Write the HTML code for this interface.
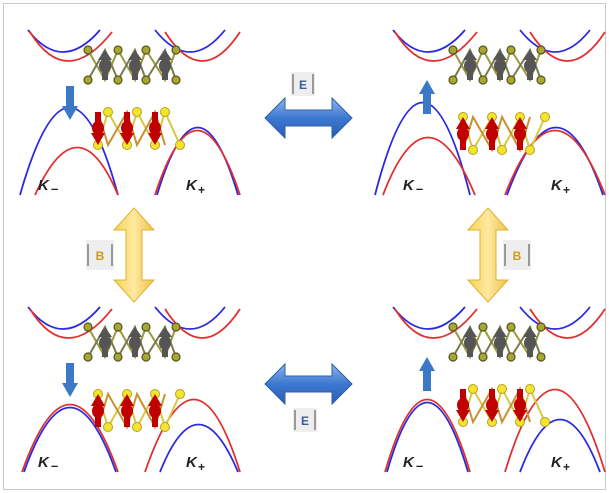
<!DOCTYPE html>
<html><head><style>
html,body{margin:0;padding:0;background:#fff;width:609px;height:493px;overflow:hidden}
text.k{font-family:"Liberation Sans",sans-serif;font-style:italic;font-weight:bold}
text.t{font-family:"Liberation Sans",sans-serif;font-style:normal;font-weight:bold}
</style></head><body>
<svg width="609" height="493" viewBox="0 0 609 493" xmlns="http://www.w3.org/2000/svg">
<defs>
<linearGradient id="bl" x1="0" y1="0" x2="0" y2="1"><stop offset="0" stop-color="#8fb4ea"/><stop offset="0.5" stop-color="#3d78d0"/><stop offset="1" stop-color="#2a5eb0"/></linearGradient>
<linearGradient id="yl" x1="0" y1="0" x2="1" y2="0"><stop offset="0" stop-color="#f7d35a"/><stop offset="0.5" stop-color="#fde9a0"/><stop offset="1" stop-color="#eec24a"/></linearGradient>
<g id="gm">
<polyline points="88,50 105,80 118,50 135,80 146,50 165,80 176,50" fill="none" stroke="#9a9a40" stroke-width="2"/>
<polyline points="88,80 105,50 118,80 135,50 146,80 165,50 176,80" fill="none" stroke="#7a7a50" stroke-width="2"/>
<g fill="#a8a830" stroke="#555520" stroke-width="1.2">
<circle cx="88" cy="50" r="4"/><circle cx="118" cy="50" r="4"/><circle cx="146" cy="50" r="4"/><circle cx="176" cy="50" r="4"/>
<circle cx="88" cy="80" r="4"/><circle cx="118" cy="80" r="4"/><circle cx="146" cy="80" r="4"/><circle cx="176" cy="80" r="4"/></g>
<g fill="#555"><rect x="102" y="56" width="6" height="24"/><polygon points="98,60 105,50 112,60"/><ellipse cx="105" cy="66" rx="6" ry="7"/>
<rect x="132" y="56" width="6" height="24"/><polygon points="128,60 135,50 142,60"/><ellipse cx="135" cy="66" rx="6" ry="7"/>
<rect x="162" y="56" width="6" height="24"/><polygon points="158,60 165,50 172,60"/><ellipse cx="165" cy="66" rx="6" ry="7"/></g>
</g>
<g id="rm">
<polyline points="98,145 108,112 127,145 137,112 155,145 165,112 180,145" fill="none" stroke="#d8c840" stroke-width="2"/>
<polyline points="98,112 108,145 127,112 137,145 155,112 165,145" fill="none" stroke="#c89030" stroke-width="2"/>
<g fill="#f2e530" stroke="#b8a020" stroke-width="1"><circle cx="108" cy="112" r="4.5"/><circle cx="137" cy="112" r="4.5"/><circle cx="165" cy="112" r="4.5"/>
<circle cx="98" cy="145" r="4.5"/><circle cx="127" cy="145" r="4.5"/><circle cx="155" cy="145" r="4.5"/><circle cx="180" cy="145" r="4.5"/></g>
<g fill="#c00000"><rect x="95" y="112" width="6" height="24"/><polygon points="91,133 98,145 105,133"/><ellipse cx="98" cy="128" rx="6" ry="7"/>
<rect x="124" y="112" width="6" height="24"/><polygon points="120,133 127,145 134,133"/><ellipse cx="127" cy="128" rx="6" ry="7"/>
<rect x="152" y="112" width="6" height="24"/><polygon points="148,133 155,145 162,133"/><ellipse cx="155" cy="128" rx="6" ry="7"/></g>
</g>
<g id="cb" fill="none" stroke-width="1.8">
<path d="M28,30 Q62,74 100,30" stroke="#2a2ae0"/><path d="M30,32 Q66,90 112,32" stroke="#e03030"/>
<path d="M155,30 Q190,74 225,30" stroke="#2a2ae0"/><path d="M165,32 Q202,90 240,32" stroke="#e03030"/>
</g>
<g id="lbl"><text class="k" x="38" y="190" font-size="15" fill="#222">K</text><text class="t" x="51" y="193" font-size="13" fill="#222">–</text>
<text class="k" x="186" y="190" font-size="15" fill="#222">K</text><text class="t" x="198" y="194" font-size="12" fill="#222">+</text></g>
</defs>
<rect x="3.5" y="3.5" width="602" height="486" fill="#fff" stroke="#c8c8c8"/>

<g>
<use href="#cb"/>
<g fill="none" stroke-width="1.8"><path d="M20,195 Q70,20 118,195" stroke="#2a2ae0"/><path d="M35,195 Q78,100 118,195" stroke="#e03030"/>
<path d="M157,195 Q198,60 238,195" stroke="#2a2ae0"/><path d="M155,195 Q197,66 240,195" stroke="#e03030"/></g>
<use href="#gm"/><use href="#rm"/>
<rect x="66" y="86" width="8" height="22" fill="#3c78c8"/><polygon points="62,106 70,120 78,106" fill="#3c78c8"/>
<use href="#lbl"/>
</g>
<g transform="translate(365,0)">
<use href="#cb"/>
<g fill="none" stroke-width="1.8"><path d="M10,195 Q58,10 105,195" stroke="#2a2ae0"/><path d="M18,195 Q62,80 110,195" stroke="#e03030"/>
<path d="M142,195 Q192,60 238,195" stroke="#2a2ae0"/><path d="M140,195 Q190,66 240,195" stroke="#e03030"/></g>
<use href="#gm"/><g transform="translate(0,262) scale(1,-1)"><use href="#rm"/></g>
<rect x="58" y="92" width="8" height="22" fill="#3c78c8"/><polygon points="54,94 62,80 70,94" fill="#3c78c8"/>
<use href="#lbl"/>
</g>
<g transform="translate(0,277)">
<use href="#cb"/>
<g fill="none" stroke-width="1.8"><path d="M22,195 Q70,60 118,195" stroke="#e03030"/><path d="M24,195 Q70,66 116,195" stroke="#2a2ae0"/>
<path d="M145,195 Q195,50 240,195" stroke="#e03030"/><path d="M160,195 Q198,100 238,195" stroke="#2a2ae0"/></g>
<use href="#gm"/><g transform="translate(0,262) scale(1,-1)"><use href="#rm"/></g>
<rect x="66" y="86" width="8" height="22" fill="#3c78c8"/><polygon points="62,106 70,120 78,106" fill="#3c78c8"/>
<use href="#lbl"/>
</g>
<g transform="translate(365,277)">
<use href="#cb"/>
<g fill="none" stroke-width="1.8"><path d="M20,195 Q62,50 105,195" stroke="#e03030"/><path d="M22,195 Q62,56 103,195" stroke="#2a2ae0"/>
<path d="M140,195 Q190,30 240,195" stroke="#e03030"/><path d="M155,195 Q195,90 235,195" stroke="#2a2ae0"/></g>
<use href="#gm"/><use href="#rm"/>
<rect x="58" y="92" width="8" height="22" fill="#3c78c8"/><polygon points="54,94 62,80 70,94" fill="#3c78c8"/>
<use href="#lbl"/>
</g>

<polygon points="265,118 285,98 285,110 332,110 332,98 352,118 332,138 332,126 285,126 285,138" fill="url(#bl)" stroke="#2d5fae" stroke-width="1"/>
<rect x="291" y="72" width="24" height="24" fill="#eeeeee"/><line x1="293" y1="74" x2="293" y2="94" stroke="#999" stroke-width="2"/><line x1="313" y1="74" x2="313" y2="94" stroke="#999" stroke-width="2"/>
<text class="t" x="303" y="89" font-size="12" fill="#3c5ca0" text-anchor="middle">E</text>
<polygon points="265,384 285,364 285,376 332,376 332,364 352,384 332,404 332,392 285,392 285,404" fill="url(#bl)" stroke="#2d5fae" stroke-width="1"/>
<rect x="293" y="408" width="24" height="24" fill="#eeeeee"/><line x1="295" y1="410" x2="295" y2="430" stroke="#999" stroke-width="2"/><line x1="315" y1="410" x2="315" y2="430" stroke="#999" stroke-width="2"/>
<text class="t" x="305" y="425" font-size="12" fill="#3c5ca0" text-anchor="middle">E</text>
<polygon points="134,208 154,230 142,230 142,280 154,280 134,302 114,280 126,280 126,230 114,230" fill="url(#yl)" stroke="#e0b030" stroke-width="1"/>
<rect x="86" y="240" width="28" height="30" fill="#eeeeee"/><line x1="88" y1="244" x2="88" y2="266" stroke="#999" stroke-width="2"/><line x1="112" y1="244" x2="112" y2="266" stroke="#999" stroke-width="2"/>
<text class="t" x="100" y="260" font-size="12" fill="#d09a10" text-anchor="middle">B</text>
<polygon points="488,208 508,230 496,230 496,280 508,280 488,302 468,280 480,280 480,230 468,230" fill="url(#yl)" stroke="#e0b030" stroke-width="1"/>
<rect x="503" y="240" width="28" height="30" fill="#eeeeee"/><line x1="505" y1="244" x2="505" y2="266" stroke="#999" stroke-width="2"/><line x1="529" y1="244" x2="529" y2="266" stroke="#999" stroke-width="2"/>
<text class="t" x="517" y="260" font-size="12" fill="#d09a10" text-anchor="middle">B</text>
</svg>
</body></html>
